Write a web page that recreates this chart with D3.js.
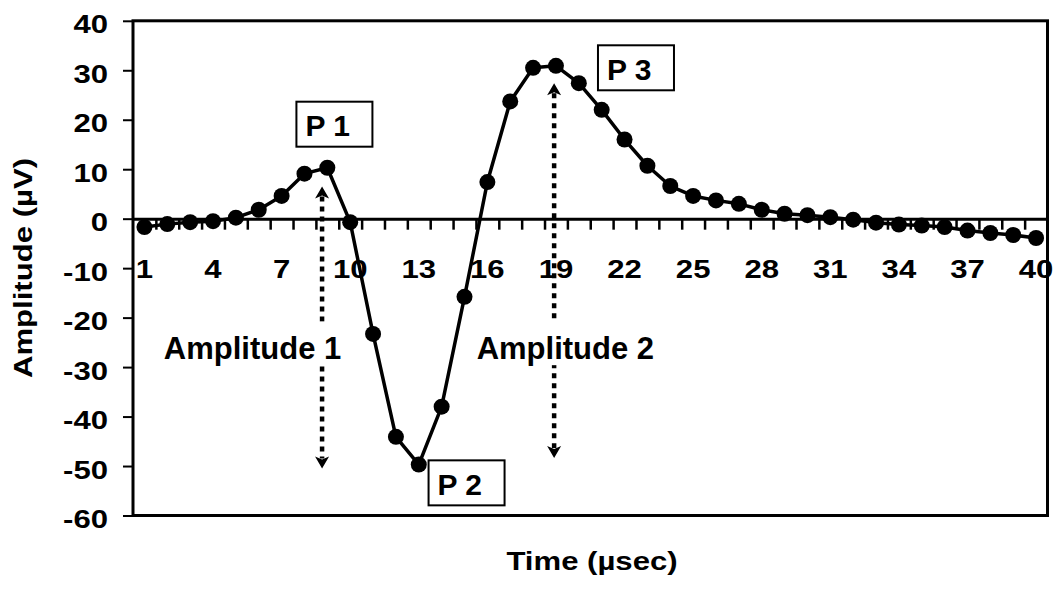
<!DOCTYPE html>
<html>
<head>
<meta charset="utf-8">
<script src="https://cdn.jsdelivr.net/npm/d3@7"></script>
<style>
  html, body { margin: 0; padding: 0; background: #fff; }
  svg { display: block; font-family: "Liberation Sans", Arial, Helvetica, sans-serif; font-weight: bold; }
</style>
</head>
<body>
<svg id="chart" width="1054" height="592"></svg>
<script>
// Sample times (µsec) and the recorded amplitude (µV) at each one
const times = [1, 2, 3, 4, 5, 6, 7, 8, 9, 10, 11, 12, 13, 14, 15, 16, 17, 18, 19, 20,
               21, 22, 23, 24, 25, 26, 27, 28, 29, 30, 31, 32, 33, 34, 35, 36, 37, 38, 39, 40];
const amplitudes = [-1.7, -1.1, -0.7, -0.5, 0.2, 1.8, 4.6, 9.1, 10.3, -0.7,
                    -23.3, -44.1, -49.7, -38.0, -15.8, 7.4, 23.7, 30.5, 30.9, 27.4,
                    22.0, 16.0, 10.7, 6.6, 4.6, 3.7, 3.0, 1.8, 1.0, 0.7,
                    0.3, -0.2, -0.8, -1.2, -1.4, -1.7, -2.4, -2.9, -3.3, -3.9];

// Axis ticks
const xTickLabels = [1, 4, 7, 10, 13, 16, 19, 22, 25, 28, 31, 34, 37, 40];
const yTicks = [40, 30, 20, 10, 0, -10, -20, -30, -40, -50, -60];

// Peak call-outs (centre position in data units)
const peakNames = ["P 1", "P 2", "P 3"];
const peakX = [9.31, 15.09, 22.5];
const peakY = [19.1, -53.4, 30.5];

// Amplitude arrows: x position, top and bottom tips in data units
const arrowNames = ["Amplitude 1", "Amplitude 2"];
const arrowX = [8.77, 18.92];
const arrowTop = [6.5, 27.4];
const arrowBottom = [-50.5, -48.4];
const arrowLabelX = [5.73, 19.41];
const arrowLabelY = [-28.3, -28.4];

const svg = d3.select("#chart");
const plot = { left: 133, right: 1047.5, top: 20.8, bottom: 515.5 };

const x = d3.scaleLinear().domain([0.5, 40.5]).range([plot.left, plot.right]);
const y = d3.scaleLinear().domain([-60, 40]).range([plot.bottom, plot.top]);

const stretch = 1.22;   // axis text is drawn horizontally widened
const axisFont = 25.5;

// Plot frame
svg.append("rect")
  .attr("x", plot.left).attr("y", plot.top)
  .attr("width", plot.right - plot.left).attr("height", plot.bottom - plot.top)
  .attr("fill", "none").attr("stroke", "#000").attr("stroke-width", 3);

// Y axis
const yAxis = svg.append("g")
  .attr("transform", `translate(${plot.left},0)`)
  .call(d3.axisLeft(y).tickValues(yTicks).tickSize(10).tickSizeOuter(0).tickFormat(d => String(d)));
yAxis.select(".domain").remove();
yAxis.selectAll(".tick line").attr("stroke", "#000").attr("stroke-width", 2);
yAxis.selectAll(".tick text")
  .attr("x", 0).attr("dy", null).attr("y", 0)
  .attr("transform", `translate(-25,12) scale(${stretch},1)`)
  .attr("text-anchor", "end")
  .attr("fill", "#000")
  .style("font-size", axisFont + "px")
  .style("font-family", "inherit")
  .style("font-weight", "bold");

// Zero line with category boundary ticks
const boundaries = times.slice(1).map(t => t - 0.5);
const xAxis = svg.append("g")
  .attr("transform", `translate(0,${y(0)})`)
  .call(d3.axisBottom(x).tickValues(boundaries).tickSize(11).tickSizeOuter(0).tickFormat(""));
xAxis.select(".domain").attr("stroke", "#000").attr("stroke-width", 3);
xAxis.selectAll(".tick line").attr("stroke", "#000").attr("stroke-width", 2.5);

// X tick labels
svg.append("g").selectAll("text")
  .data(xTickLabels)
  .join("text")
  .attr("transform", d => `translate(${x(d)},278) scale(${stretch},1)`)
  .attr("text-anchor", "middle")
  .style("font-size", axisFont + "px")
  .text(d => String(d));

// Axis titles
svg.append("text")
  .attr("transform", `translate(592,570) scale(${stretch},1)`)
  .attr("text-anchor", "middle")
  .style("font-size", axisFont + "px")
  .text("Time (µsec)");

svg.append("text")
  .attr("transform", `translate(31.6,268) rotate(-90) scale(${stretch},1)`)
  .attr("text-anchor", "middle")
  .style("font-size", axisFont + "px")
  .text("Amplitude (µV)");

// Waveform
const line = d3.line()
  .x((d, i) => x(times[i]))
  .y(d => y(d));
svg.append("path")
  .datum(amplitudes)
  .attr("d", line)
  .attr("fill", "none")
  .attr("stroke", "#000")
  .attr("stroke-width", 3.5)
  .attr("stroke-linejoin", "round");

svg.append("g").selectAll("circle")
  .data(amplitudes)
  .join("circle")
  .attr("cx", (d, i) => x(times[i]))
  .attr("cy", d => y(d))
  .attr("r", 8)
  .attr("fill", "#000");

// Dotted double-headed amplitude arrows
const headLen = 12, headHalf = 7;
const arrows = svg.append("g");
arrowNames.forEach((name, i) => {
  const ax = x(arrowX[i]);
  const yTop = y(arrowTop[i]);
  const yBot = y(arrowBottom[i]);
  arrows.append("line")
    .attr("x1", ax).attr("x2", ax)
    .attr("y1", yTop + headLen - 2).attr("y2", yBot - headLen + 2)
    .attr("stroke", "#000").attr("stroke-width", 4.5)
    .attr("stroke-dasharray", "5,5");
  arrows.append("path")
    .attr("d", `M${ax},${yTop} L${ax - headHalf},${yTop + headLen} L${ax},${yTop + headLen - 3} L${ax + headHalf},${yTop + headLen} Z`)
    .attr("fill", "#000");
  arrows.append("path")
    .attr("d", `M${ax},${yBot} L${ax - headHalf},${yBot - headLen} L${ax},${yBot - headLen + 3} L${ax + headHalf},${yBot - headLen} Z`)
    .attr("fill", "#000");
});

// Arrow labels on white backing
arrowNames.forEach((name, i) => {
  const g = svg.append("g");
  const bg = g.append("rect").attr("fill", "#fff");
  const t = g.append("text")
    .attr("x", x(arrowLabelX[i]))
    .attr("y", y(arrowLabelY[i]))
    .attr("text-anchor", "middle")
    .style("font-size", "31px")
    .text(name);
  const bb = t.node().getBBox();
  const base = y(arrowLabelY[i]);
  bg.attr("x", bb.x - 3).attr("width", bb.width + 6)
    .attr("y", base - 37).attr("height", 43);
});

// Peak call-out boxes
const boxW = 76, boxH = 45;
peakNames.forEach((name, i) => {
  const cx = x(peakX[i]), cy = y(peakY[i]);
  const g = svg.append("g");
  g.append("rect")
    .attr("x", cx - boxW / 2).attr("y", cy - boxH / 2)
    .attr("width", boxW).attr("height", boxH)
    .attr("fill", "#fff").attr("stroke", "#000").attr("stroke-width", 2);
  g.append("text")
    .attr("x", cx - boxW / 2 + 9)
    .attr("y", cy - boxH / 2 + 34.5)
    .style("font-size", "30px")
    .text(name);
});
</script>
</body>
</html>
